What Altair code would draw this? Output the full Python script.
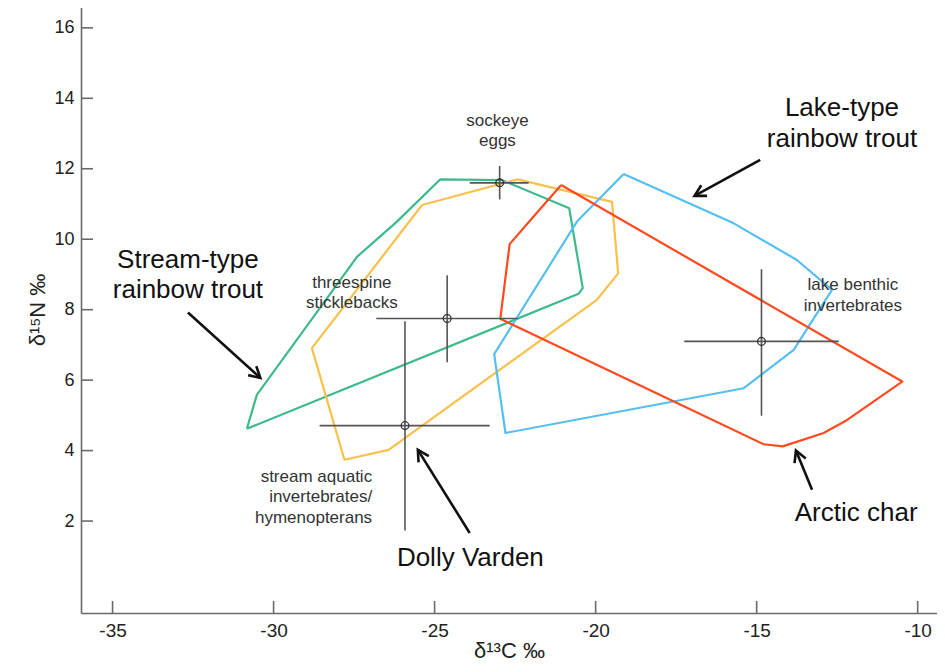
import math
import altair as alt
import pandas as pd

# ---------------- data ----------------
x_ticks = [-35, -30, -25, -20, -15, -10]
y_ticks = [2, 4, 6, 8, 10, 12, 14, 16]

group_names = ["Stream-type rainbow trout", "Dolly Varden", "Lake-type rainbow trout", "Arctic char"]
group_colors = ["#3dba8a", "#f9c04c", "#55bff2", "#ff4a1f"]

stream_rbt_x = [-30.83, -30.52, -27.41, -26.17, -24.82, -22.91, -20.82, -20.40, -20.53]
stream_rbt_y = [4.62, 5.58, 9.50, 10.50, 11.70, 11.68, 10.88, 8.61, 8.45]
dolly_x = [-25.39, -22.42, -19.49, -19.30, -19.96, -26.43, -27.80, -28.81]
dolly_y = [10.97, 11.70, 11.06, 9.03, 8.28, 4.02, 3.74, 6.91]
lake_rbt_x = [-19.13, -15.71, -13.75, -12.66, -13.85, -15.40, -22.80, -23.15, -20.58]
lake_rbt_y = [11.85, 10.45, 9.41, 8.56, 6.86, 5.77, 4.50, 6.74, 10.50]
char_x = [-21.07, -21.98, -22.67, -22.96, -14.78, -14.19, -12.92, -12.19, -10.48]
char_y = [11.54, 10.59, 9.86, 7.74, 4.18, 4.12, 4.50, 4.87, 5.96]

prey_x = [-22.98, -24.61, -25.92, -14.85]
prey_y = [11.60, 7.75, 4.71, 7.10]
prey_x_lo = [-23.91, -26.81, -28.57, -17.25]
prey_x_hi = [-22.08, -22.42, -23.29, -12.45]
prey_y_lo = [11.13, 6.51, 1.73, 4.99]
prey_y_hi = [12.08, 8.98, 7.67, 9.15]

small_text = ["sockeye", "eggs", "threespine", "sticklebacks", "lake benthic", "invertebrates"]
small_x = [-23.05, -23.05, -27.57, -27.57, -12.01, -12.01]
small_y = [13.21, 12.64, 8.62, 8.06, 8.56, 7.97]

right_text = ["stream aquatic", "invertebrates/", "hymenopterans"]
right_x = [-26.94, -26.94, -26.94]
right_y = [3.12, 2.53, 1.94]

big_text = ["Stream-type", "rainbow trout", "Lake-type", "rainbow trout", "Dolly Varden", "Arctic char"]
big_x = [-32.66, -32.66, -12.35, -12.35, -23.89, -11.91]
big_y = [9.18, 8.33, 13.49, 12.61, 0.71, 1.99]

arrow_tail_x = [-32.66, -14.89, -23.91, -13.28]
arrow_tail_y = [7.92, 12.25, 1.66, 2.89]
arrow_head_x = [-30.41, -16.93, -25.52, -13.78]
arrow_head_y = [6.06, 11.23, 4.02, 4.00]

# ---------------- layout ----------------
W, H = 856, 607
XDOM = [-35.98, -9.40]
YDOM = [-0.61, 16.62]
xs = alt.Scale(domain=XDOM, nice=False, zero=False)
ys = alt.Scale(domain=YDOM, nice=False, zero=False)
AXIS_COLOR = "#6a6a6a"
FONT = "Liberation Sans, Arial, sans-serif"
X_TITLE = "δ¹³C ‰"
Y_TITLE = "δ¹⁵N ‰"

AX = alt.Axis(values=x_ticks, ticks=False, grid=False, domainColor=AXIS_COLOR,
              domainWidth=1.6, labelFont=FONT, labelFontSize=19, labelColor="#222",
              labelPadding=8, labelExpr="'' + datum.value",
              titleFont=FONT, titleFontSize=22, titleFontWeight="normal",
              titleColor="#222", titlePadding=0)
AY = alt.Axis(values=y_ticks, ticks=False, grid=False, domainColor=AXIS_COLOR,
              domainWidth=1.6, labelFont=FONT, labelFontSize=18, labelColor="#222",
              labelPadding=7, titleFont=FONT, titleFontSize=22,
              titleFontWeight="normal", titleColor="#222", titlePadding=4)

# ---------------- tables ----------------
rows = []
for name, px, py in zip(group_names,
                        [stream_rbt_x, dolly_x, lake_rbt_x, char_x],
                        [stream_rbt_y, dolly_y, lake_rbt_y, char_y]):
    for i, (a, b) in enumerate(zip(px + [px[0]], py + [py[0]])):
        rows.append({"group": name, "order": i, "x": a, "y": b})
poly_df = pd.DataFrame(rows)

prey_df = pd.DataFrame({"x": prey_x, "y": prey_y, "xlo": prey_x_lo, "xhi": prey_x_hi,
                        "ylo": prey_y_lo, "yhi": prey_y_hi})
small_df = pd.DataFrame({"x": small_x, "y": small_y, "t": small_text})
right_df = pd.DataFrame({"x": right_x, "y": right_y, "t": right_text})
big_df = pd.DataFrame({"x": big_x, "y": big_y, "t": big_text})

kx = W / (XDOM[1] - XDOM[0])
ky = H / (YDOM[1] - YDOM[0])
angles = [math.degrees(math.atan2((hx - tx) * kx, (hy - ty) * ky)) % 360
          for tx, ty, hx, hy in zip(arrow_tail_x, arrow_tail_y, arrow_head_x, arrow_head_y)]
arrow_df = pd.DataFrame({"tx": arrow_tail_x, "ty": arrow_tail_y,
                         "hx": arrow_head_x, "hy": arrow_head_y, "ang": angles})


def X(f):
    return alt.X(f, type="quantitative", scale=xs, axis=AX, title=X_TITLE)


def Y(f):
    return alt.Y(f, type="quantitative", scale=ys, axis=AY, title=Y_TITLE)


# ---------------- layers ----------------
polys = alt.Chart(poly_df).mark_line(strokeWidth=2.2, strokeJoin="round").encode(
    x=X("x"), y=Y("y"),
    color=alt.Color("group:N", scale=alt.Scale(domain=group_names, range=group_colors), legend=None),
    detail="group:N",
    order="order:Q",
)

xtick_layer = alt.Chart(pd.DataFrame({"v": x_ticks})).mark_rule(
    color=AXIS_COLOR, strokeWidth=1.6).encode(x=X("v"), y=alt.value(H), y2=alt.value(H - 12))
ytick_layer = alt.Chart(pd.DataFrame({"v": y_ticks})).mark_rule(
    color=AXIS_COLOR, strokeWidth=1.6).encode(y=Y("v"), x=alt.value(0), x2=alt.value(12))
top_border = alt.Chart(pd.DataFrame({"v": [0]})).mark_rule(
    color=AXIS_COLOR, strokeWidth=1.6).encode(x=alt.value(0), x2=alt.value(W), y=alt.value(0))

hbars = alt.Chart(prey_df).mark_rule(color="#555", strokeWidth=1.6).encode(
    x=X("xlo"), x2="xhi", y=Y("y"))
vbars = alt.Chart(prey_df).mark_rule(color="#555", strokeWidth=1.6).encode(
    x=X("x"), y=Y("ylo"), y2="yhi")
centers = alt.Chart(prey_df).mark_point(shape="circle", size=60, filled=False, color="#333",
                                         strokeWidth=1.3, opacity=1).encode(x=X("x"), y=Y("y"))

small_labels = alt.Chart(small_df).mark_text(
    align="center", baseline="alphabetic", font=FONT, fontSize=17, color="#333").encode(
    x=X("x"), y=Y("y"), text="t:N")
right_labels = alt.Chart(right_df).mark_text(
    align="right", baseline="alphabetic", font=FONT, fontSize=17, color="#333").encode(
    x=X("x"), y=Y("y"), text="t:N")
big_labels = alt.Chart(big_df).mark_text(
    align="center", baseline="alphabetic", font=FONT, fontSize=26, color="#111").encode(
    x=X("x"), y=Y("y"), text="t:N")

shafts = alt.Chart(arrow_df).mark_rule(color="#111", strokeWidth=2.6).encode(
    x=X("tx"), y=Y("ty"), x2="hx", y2="hy")
heads = alt.Chart(arrow_df).mark_point(
    shape="M -0.55 1 L 0 0 L 0.55 1", filled=False, size=484, color="#111",
    strokeWidth=2.6, opacity=1, strokeJoin="miter").encode(
    x=X("hx"), y=Y("hy"), angle=alt.Angle("ang:Q", scale=None))

chart = alt.layer(
    polys, xtick_layer, ytick_layer, top_border, hbars, vbars, centers,
    small_labels, right_labels, big_labels, shafts, heads,
).properties(
    width=W, height=H,
    autosize=alt.AutoSizeParams(type="none"),
    padding={"left": 73, "top": -2, "right": 0, "bottom": 51},
).configure_view(stroke=None)

chart.save("out.html", embed_options={"renderer": "svg", "actions": False})
